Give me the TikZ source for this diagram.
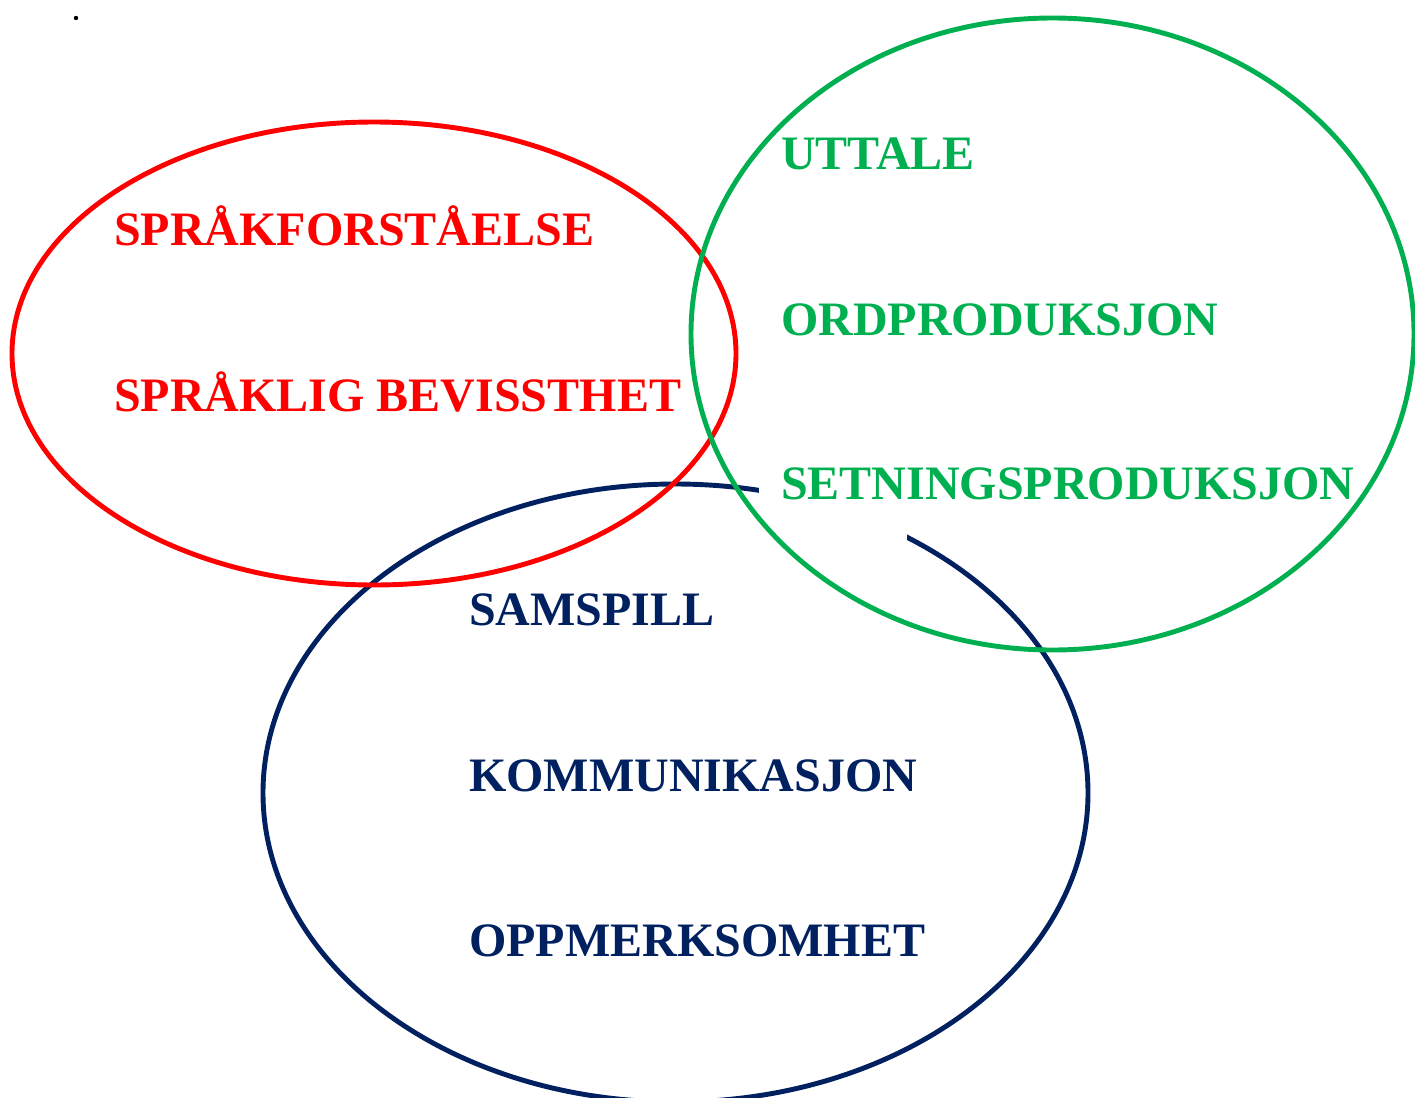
\documentclass[tikz,border=0pt]{standalone}
\usepackage{fontspec}
\setmainfont{Liberation Serif}
\definecolor{cred}{HTML}{FF0000}
\definecolor{cgreen}{HTML}{00B050}
\definecolor{cblue}{HTML}{002060}
\begin{document}
\begin{tikzpicture}[x=0.05cm,y=-0.05cm,
  ring/.style={line width=7pt},
  lbl/.style={anchor=base west,inner sep=0pt,font=\fontsize{68.3}{80}\selectfont\bfseries}]
\useasboundingbox (0,0) rectangle (1415,1097);
\clip (0,0) rectangle (1415,1097);
\fill[black] (76,18) circle (2.2);
% blue ellipse
\draw[ring,cblue] (675.5,793) ellipse [x radius=412.5, y radius=309];
% white background of green text covering blue ring
\fill[white] (759,465) rectangle (907,545);
% red ellipse
\draw[ring,cred] (374,353.5) ellipse [x radius=362, y radius=231.5];
% green ellipse
\draw[ring,cgreen] (1052.5,334) ellipse [x radius=361.5, y radius=316];
% texts
\node[lbl,text=cred] (r1) at (114,245) {SPRÅKFORSTÅELSE};
\node[lbl,text=cred] (r2) at (114,411) {SPRÅKLIG BEVISSTHET};
\node[lbl,text=cgreen] (g1) at (781,169) {UTTALE};
\node[lbl,text=cgreen] (g2) at (781,335) {ORDPRODUKSJON};
\node[lbl,text=cgreen] (g3) at (781,499) {SETNINGSPRODUKSJON};
\node[lbl,text=cblue] (b1) at (469,625) {SAMSPILL};
\node[lbl,text=cblue] (b2) at (469,791) {KOMMUNIKASJON};
\node[lbl,text=cblue] (b3) at (469,956) {OPPMERKSOMHET};
\end{tikzpicture}
\end{document}
